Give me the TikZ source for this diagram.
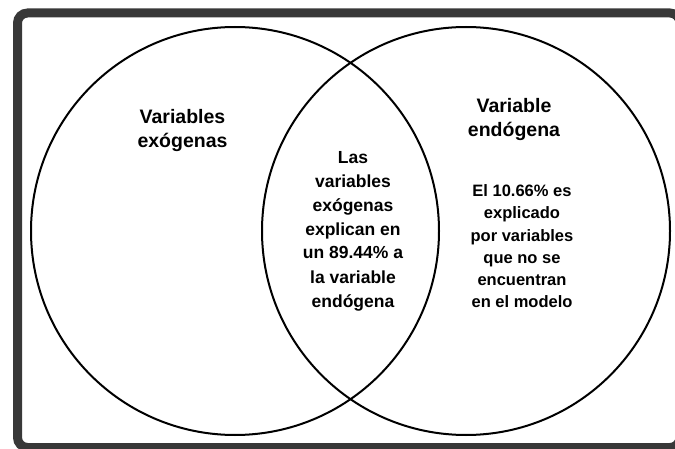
\documentclass[tikz,border=0pt]{standalone}
\usepackage{fontspec}
\setmainfont{Liberation Sans}
\usetikzlibrary{calc}

\begin{document}
\begin{tikzpicture}[
  x=1pt,y=-1pt,
  set/.style={circle,draw=black,line width=2pt,minimum size=408pt,inner sep=0pt},
  head/.style={align=center,anchor=base,inner sep=0pt,font=\fontsize{19.5}{24.5}\selectfont\bfseries},
  body/.style={align=center,anchor=base,inner sep=0pt,font=\fontsize{17.5}{24}\selectfont\bfseries},
  note/.style={align=center,anchor=base,inner sep=0pt,font=\fontsize{16.5}{22.3}\selectfont\bfseries}
]

\useasboundingbox (0,0) rectangle (675,449);

\draw[draw=black!78,line width=9pt,rounded corners=10pt] (17.5,13) rectangle (680,447.5);

\node[set] (exo) at (235,231) {};
\node[set] (endo) at (466,231) {};

\node[head] (exotitle) at (182.5,148) {Variables\\exógenas};
\node[head] (endotitle) at (514,136.7) {Variable\\endógena};
\node[body] (shared) at (353,307) {Las\\variables\\exógenas\\explican en\\un 89.44\% a\\la variable\\endógena};
\node[note] (rest) at (522,308) {El 10.66\% es\\explicado\\por variables\\que no se\\encuentran\\en el modelo};

\end{tikzpicture}
\end{document}
